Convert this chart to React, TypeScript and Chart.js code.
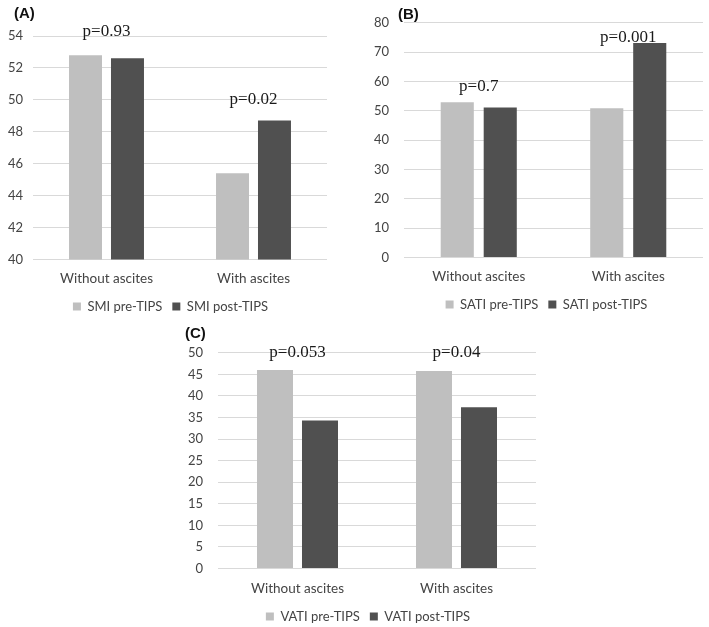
import React, { useEffect, useRef } from "react";
import { Chart, registerables } from "chart.js";
Chart.register(...registerables);

const categories = ["Without ascites", "With ascites"];

const smiPre = [52.8, 45.4];
const smiPost = [52.6, 48.7];
const smiPText = ["p=0.93", "p=0.02"];
const smiPY = [54.25, 50.0];
const smiTicks = { min: 40, max: 54, step: 2 };

const satiPre = [52.9, 50.9];
const satiPost = [51.1, 73.1];
const satiPText = ["p=0.7", "p=0.001"];
const satiPY = [58.3, 75.0];
const satiTicks = { min: 0, max: 80, step: 10 };

const vatiPre = [46.0, 45.8];
const vatiPost = [34.3, 37.4];
const vatiPText = ["p=0.053", "p=0.04"];
const vatiPY = [50, 50];
const vatiTicks = { min: 0, max: 50, step: 5 };

const LIGHT = "#bfbfbf";
const DARK = "#505050";
const GRID = "#d9d9d9";
const TEXT = "#444444";
const SANS = "Lato, 'Open Sans', sans-serif";

type PanelProps = {
  tag: string;
  tagPos: { left: number; top: number };
  rect: { left: number; top: number; width: number; height: number };
  pad: { top: number; left: number; right: number; bottom: number };
  yW: number;
  xH: number;
  yPad: number;
  xPad: number;
  legendDx: number;
  ticks: { min: number; max: number; step: number };
  names: [string, string];
  pre: number[];
  post: number[];
  pText: string[];
  pY: number[];
  catPct: number;
  barPct: number;
};

function Panel(p: PanelProps) {
  const ref = useRef<HTMLCanvasElement | null>(null);
  useEffect(() => {
    if (!ref.current) return;
    const pPlugin = {
      id: "pvals",
      afterDatasetsDraw(chart: any) {
        const ctx = chart.ctx;
        ctx.save();
        ctx.font = "17px 'Liberation Serif', 'Times New Roman', serif";
        ctx.fillStyle = "#1a1a1a";
        ctx.textAlign = "center";
        ctx.textBaseline = "middle";
        p.pText.forEach((t, i) => {
          const x = chart.scales.x.getPixelForValue(i);
          const y = chart.scales.y.getPixelForValue(p.pY[i]);
          ctx.fillText(t, x, y);
        });
        ctx.restore();
      },
    };
    const legendShift = {
      id: "legendShift",
      afterLayout(chart: any) {
        const lg = chart.legend;
        if (lg) {
          lg.left += p.legendDx;
          lg.right += p.legendDx;
        }
      },
    };
    const chart = new Chart(ref.current, {
      type: "bar",
      data: {
        labels: categories,
        datasets: [
          {
            label: p.names[0],
            data: p.pre,
            backgroundColor: LIGHT,
            categoryPercentage: p.catPct,
            barPercentage: p.barPct,
          },
          {
            label: p.names[1],
            data: p.post,
            backgroundColor: DARK,
            categoryPercentage: p.catPct,
            barPercentage: p.barPct,
          },
        ],
      },
      options: {
        responsive: false,
        animation: false,
        devicePixelRatio: 1,
        layout: { padding: p.pad },
        plugins: {
          tooltip: { enabled: false },
          legend: {
            position: "bottom",
            labels: {
              boxWidth: 8,
              boxHeight: 8,
              padding: 10,
              color: TEXT,
              font: { family: SANS, size: 13 },
            },
          },
        },
        scales: {
          x: {
            grid: { display: false, drawTicks: false },
            border: { display: false },
            ticks: { color: TEXT, font: { family: SANS, size: 13.5 }, padding: p.xPad },
            afterFit: (s: any) => {
              s.height = p.xH;
            },
          },
          y: {
            min: p.ticks.min,
            max: p.ticks.max,
            grid: { color: GRID, drawTicks: false, lineWidth: 1 },
            border: { display: false },
            ticks: {
              stepSize: p.ticks.step,
              color: TEXT,
              font: { family: SANS, size: 13 },
              padding: p.yPad,
            },
            afterFit: (s: any) => {
              s.width = p.yW;
            },
          },
        },
      },
      plugins: [pPlugin, legendShift],
    } as any);
    return () => chart.destroy();
  }, []);
  return (
    <>
      <canvas
        ref={ref}
        width={p.rect.width}
        height={p.rect.height}
        style={{
          position: "absolute",
          left: p.rect.left,
          top: p.rect.top,
          width: p.rect.width,
          height: p.rect.height,
        }}
      />
      <div
        style={{
          position: "absolute",
          left: p.tagPos.left,
          top: p.tagPos.top,
          font: "bold 15px 'Liberation Sans', Arial, sans-serif",
          color: "#111",
          lineHeight: "17px",
        }}
      >
        {p.tag}
      </div>
    </>
  );
}

export default function App() {
  return (
    <div
      style={{
        position: "fixed",
        left: 0,
        top: 0,
        width: 709,
        height: 627,
        overflow: "hidden",
        background: "#fff",
      }}
    >
      <Panel
        tag="(A)"
        tagPos={{ left: 14, top: 4 }}
        rect={{ left: 0, top: 0, width: 345, height: 323 }}
        pad={{ top: 36, left: 0, right: 18, bottom: 0 }}
        yW={33}
        xH={30.5}
        yPad={10}
        xPad={11}
        legendDx={7}
        ticks={smiTicks}
        names={["SMI pre-TIPS", "SMI post-TIPS"]}
        pre={smiPre}
        post={smiPost}
        pText={smiPText}
        pY={smiPY}
        catPct={0.571}
        barPct={0.786}
      />
      <Panel
        tag="(B)"
        tagPos={{ left: 398, top: 5 }}
        rect={{ left: 370, top: 0, width: 339, height: 321 }}
        pad={{ top: 17, left: 0, right: 6, bottom: 0 }}
        yW={34}
        xH={30.5}
        yPad={15}
        xPad={11}
        legendDx={10}
        ticks={satiTicks}
        names={["SATI pre-TIPS", "SATI post-TIPS"]}
        pre={satiPre}
        post={satiPost}
        pText={satiPText}
        pY={satiPY}
        catPct={0.575}
        barPct={0.77}
      />
      <Panel
        tag="(C)"
        tagPos={{ left: 185, top: 324 }}
        rect={{ left: 170, top: 330, width: 400, height: 303 }}
        pad={{ top: 22.7, left: 0, right: 34, bottom: 0 }}
        yW={48}
        xH={31.5}
        yPad={15}
        xPad={12}
        legendDx={15}
        ticks={vatiTicks}
        names={["VATI pre-TIPS", "VATI post-TIPS"]}
        pre={vatiPre}
        post={vatiPost}
        pText={vatiPText}
        pY={vatiPY}
        catPct={0.566}
        barPct={0.8}
      />
    </div>
  );
}
